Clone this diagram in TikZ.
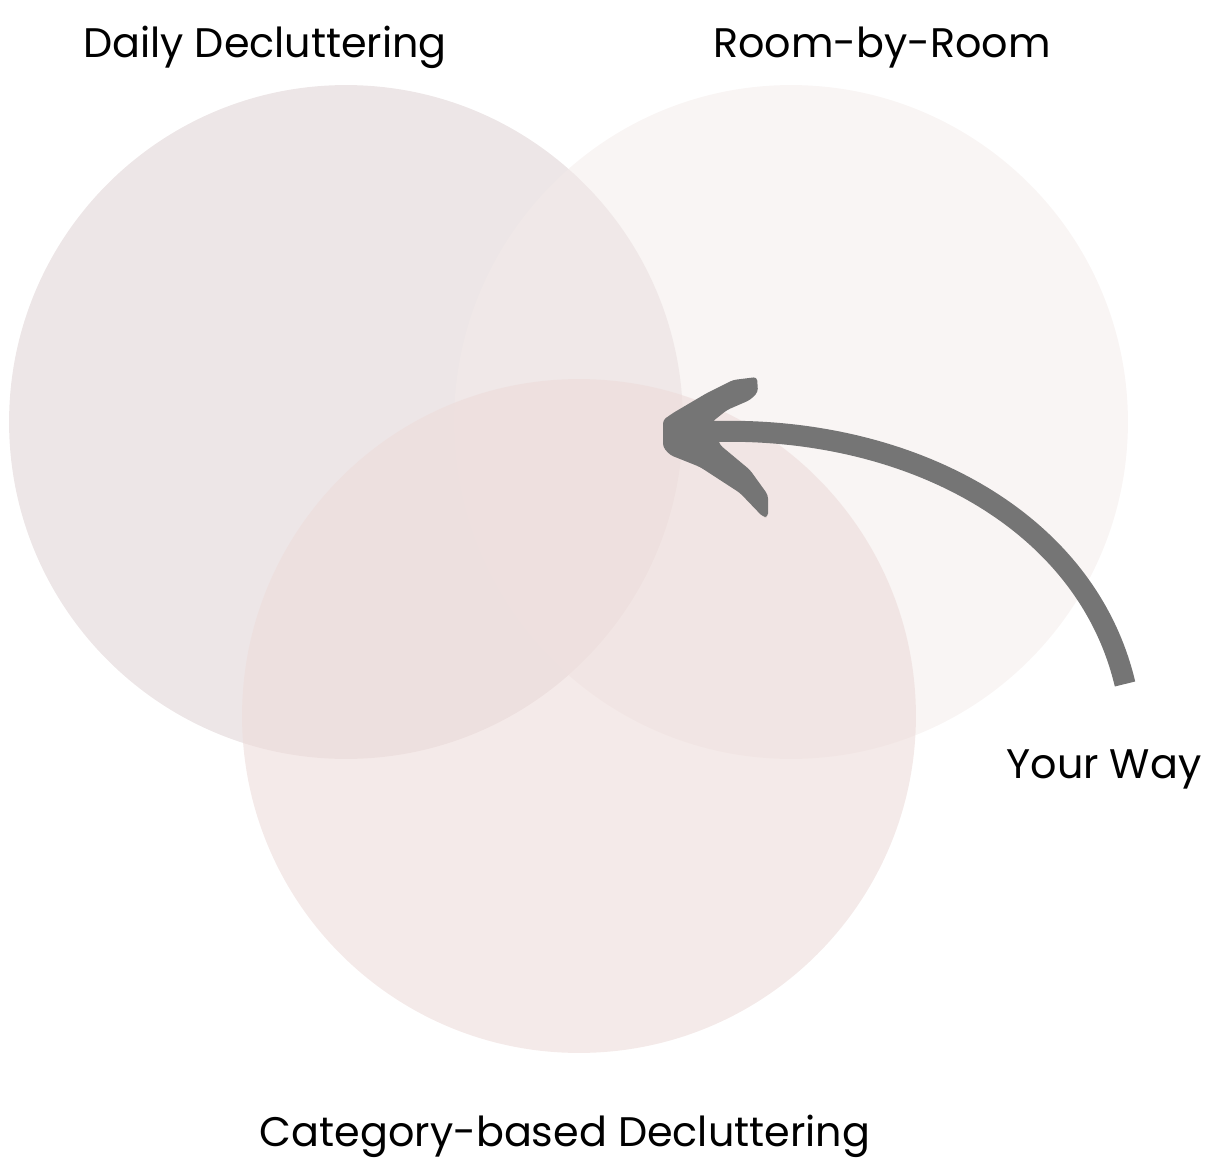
\documentclass[tikz,border=0pt]{standalone}
\usepackage{fontspec}
\setmainfont{Poppins}
\definecolor{dailyfill}{HTML}{EDE6E7}
\definecolor{roomfill}{HTML}{F3EBE9}
\definecolor{catfill}{HTML}{EDDCDA}
\definecolor{arrowgray}{HTML}{757575}
\begin{document}
\begin{tikzpicture}[x=0.02cm, y=-0.02cm,
    set/.style={circle, minimum size=13.48cm, inner sep=0pt},
    setname/.style={font=\fontsize{23.5}{28}\selectfont, anchor=base, inner sep=0pt}]
    \useasboundingbox (0,0) rectangle (1225,1159);
    % the three ways
    \node[set, fill=dailyfill] (daily) at (346,422) {};
    \node[set, fill=roomfill, fill opacity=0.5] (room) at (791,422) {};
    \node[set, fill=catfill, fill opacity=0.6] (cat) at (579,716) {};

    \node[setname] (dailyname) at (265,58) {Daily Decluttering};
    \node[setname] (roomname) at (882,58) {Room-by-Room};
    \node[setname] (wayname) at (1104,778) {Your Way};
    \node[setname] (catname) at (565,1146) {Category-based Decluttering};

    % hand drawn arrow
    \coordinate (tail) at (1125,684);
    \coordinate (tip) at (700,432);
    \draw[arrowgray, line width=0.42cm] (tail) .. controls (1085,515) and (900,422) .. (tip);
    \fill[arrowgray, rounded corners=2pt]
      (757,377) -- (758,392) -- (750,400) -- (727,410) -- (712,422) -- (720,445)
      -- (750,470) -- (768,495) -- (768,517) -- (763,517) -- (740,493) -- (700,467)
      -- (670,455) -- (663,447) -- (663,420) -- (673,413) -- (707,393) -- (733,380) -- cycle;
  \end{tikzpicture}
\end{document}
